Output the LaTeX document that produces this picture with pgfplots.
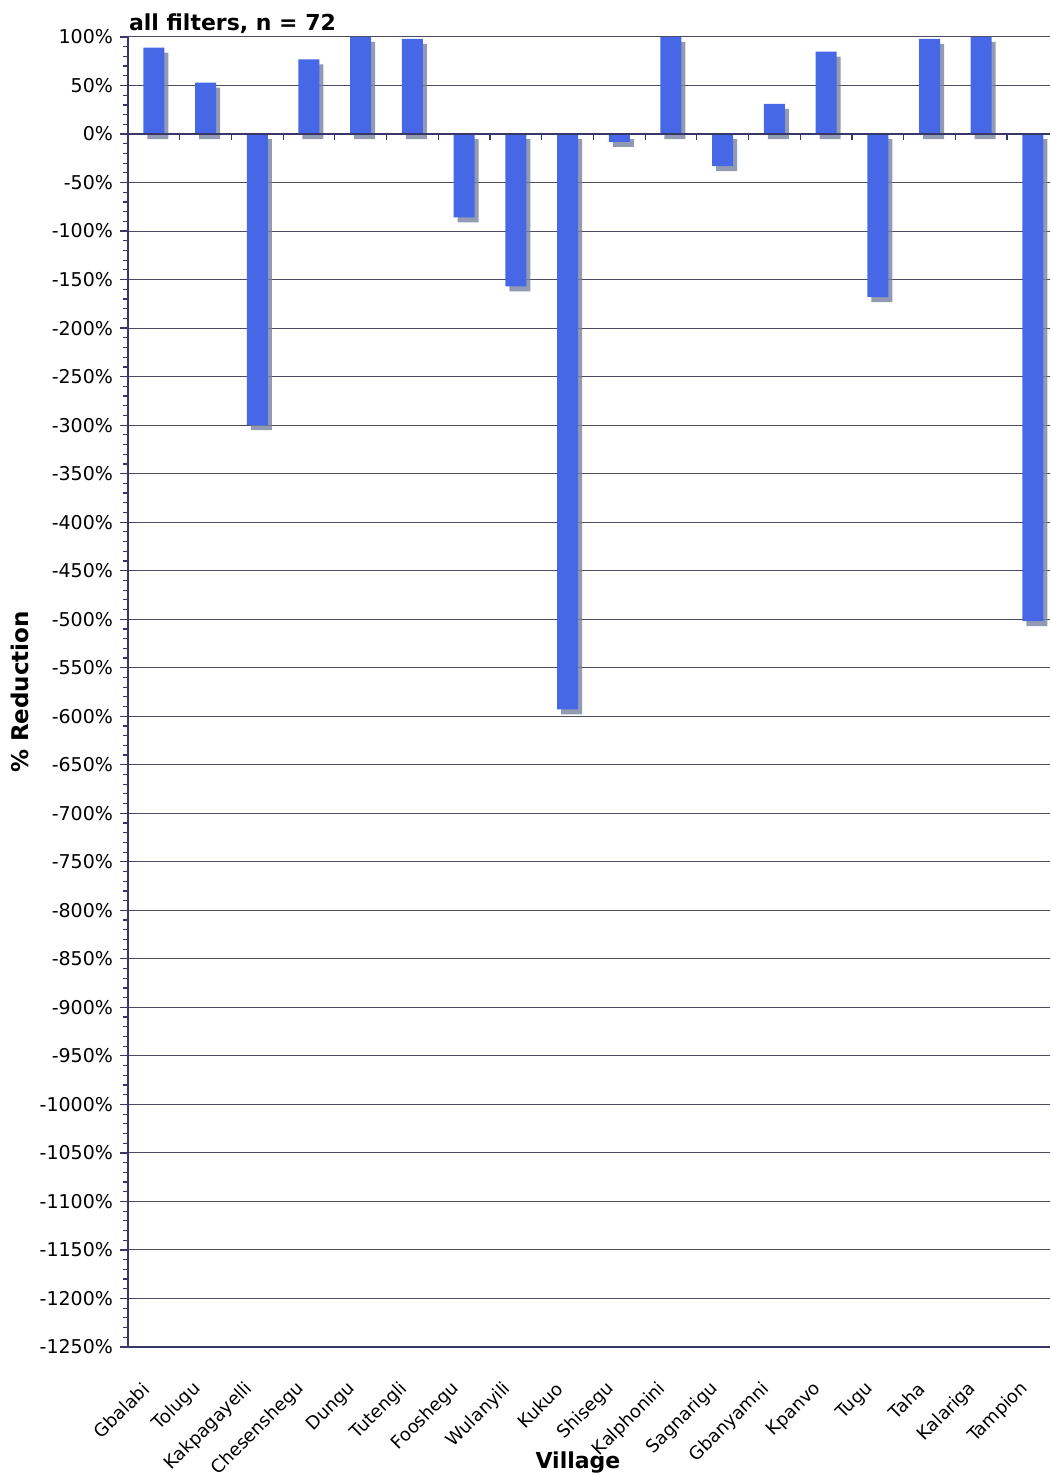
\documentclass[border=0pt]{standalone}
\usepackage{pgfplots}
\pgfplotsset{compat=1.18}
\usepackage{fontspec}
\setmainfont{DejaVu Sans}
\usetikzlibrary{shadows}
\definecolor{barblue}{RGB}{70,104,230}
\definecolor{gridc}{RGB}{75,75,95}
\definecolor{axc}{RGB}{55,55,105}
\definecolor{shadc}{RGB}{120,130,160}
\begin{document}
\begin{tikzpicture}
\useasboundingbox (0,0) rectangle (525pt,738.5pt);
\begin{axis}[
  at={(64pt,65pt)}, anchor=south west,
  scale only axis, width=461pt, height=655pt,
  xmin=-0.5, xmax=17.33, ymin=-1250, ymax=100,
  axis lines*=left,
  axis line style={axc, line width=0.8pt},
  ytick={-1250,-1200,...,100},
  minor y tick num=4,
  ymajorgrids, grid style={gridc, line width=0.5pt},
  tick align=outside,
  major tick length=4pt, minor tick length=2.5pt,
  tick style={axc, line width=0.6pt},
  x tick style={draw=none},
  xtick={0,...,17},
  xticklabels={Gbalabi,Tolugu,Kakpagayelli,Chesenshegu,Dungu,Tutengli,Fooshegu,Wulanyili,Kukuo,Shisegu,Kalphonini,Sagnarigu,Gbanyamni,Kpanvo,Tugu,Taha,Kalariga,Tampion},
  xticklabel style={xshift=-1.5pt, yshift=-13pt, rotate=45, anchor=east, font=\fontsize{9}{10}\selectfont},
  yticklabel={\pgfmathprintnumber{\tick}\%},
  yticklabel style={font=\fontsize{9.5}{11}\selectfont},
  /pgf/number format/assume math mode=true,
  /pgf/number format/1000 sep={},
  title={all filters, n = 72},
  title style={at={(axis description cs:0,1)}, anchor=base west, xshift=-3pt, yshift=-3pt, font=\bfseries\fontsize{11}{13}\selectfont},
  ylabel={\% Reduction},
  ylabel style={at={(axis description cs:-0.117,0.5)}, anchor=center, font=\bfseries\fontsize{11.5}{13}\selectfont},
  xlabel={Village},
  xlabel style={at={(axis description cs:0.488,-0.0878)}, anchor=center, font=\bfseries\fontsize{11}{13}\selectfont},
]
\addplot[ybar, bar width=10.5pt, fill=barblue, draw=none,
  drop shadow={shadow xshift=2pt, shadow yshift=-2.5pt, fill=shadc, opacity=0.8}]
  coordinates {
  (0,89) (1,53) (2,-300) (3,77) (4,100) (5,98) (6,-86) (7,-157) (8,-593)
  (9,-8) (10,100) (11,-33) (12,31) (13,85) (14,-168) (15,98) (16,100) (17,-502)
  };
\draw[axc, line width=0.8pt] (axis cs:-0.5,0) -- (axis cs:17.33,0);
\pgfplotsinvokeforeach{0.5,1.5,2.5,3.5,4.5,5.5,6.5,7.5,8.5,9.5,10.5,11.5,12.5,13.5,14.5,15.5,16.5}{
  \draw[axc, line width=0.6pt] (axis cs:#1,0) -- ([yshift=-3pt]axis cs:#1,0);
}
\end{axis}
\end{tikzpicture}
\end{document}
